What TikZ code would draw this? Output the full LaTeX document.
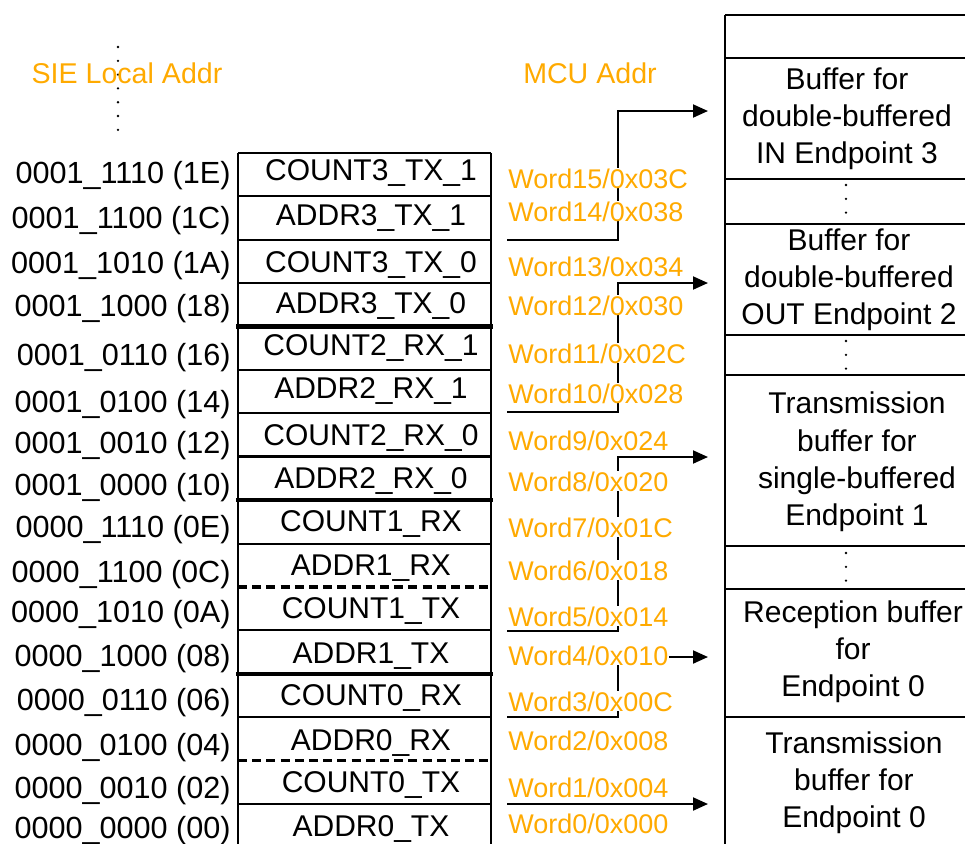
\documentclass[tikz,border=0pt]{standalone}
\usepackage{fontspec}
\setmainfont{Liberation Sans}
\usetikzlibrary{arrows.meta}
\definecolor{addrorange}{RGB}{255,170,0}

\begin{document}
\begin{tikzpicture}[x=0.5pt, y=-0.5pt,
    cell/.style={font=\fontsize{15}{18}\selectfont, inner sep=0pt, anchor=base},
    sie/.style={font=\fontsize{15.3}{18}\selectfont, inner sep=0pt, anchor=base east},
    word/.style={font=\fontsize{13.5}{16}\selectfont, text=addrorange, fill=white,
        inner sep=0pt, anchor=base west},
    head/.style={font=\fontsize{14.3}{17}\selectfont, text=addrorange, inner sep=0pt, anchor=base},
    buf/.style={font=\fontsize{15}{18.6}\selectfont, align=center, inner sep=0pt},
    tbl/.style={line width=1pt},
    sep/.style={line width=2.2pt},
    half/.style={line width=1.4pt},
    split/.style={line width=1.6pt, dash pattern=on 4.5pt off 2.6pt},
    dots/.style={line width=1.3pt, line cap=round, dash pattern=on 0pt off 6.9pt},
    link/.style={line width=1pt, -{Triangle[length=7.5pt,width=6.5pt]}}]

    \useasboundingbox (0,0) rectangle (965,843);

    % headers
    \draw[dots] (118,47) -- (118,131);
    \node[head] (hsie) at (127,83) {SIE Local Addr};
    \node[head] (hmcu) at (590,83) {MCU Addr};

    % descriptor table
    \draw[tbl] (238,153) -- (238,850) (491,153) -- (491,850);
    \foreach \k in {0,1,2,3,5,6,9,11,13}
        \draw[tbl] (238,{153+43.4*\k}) -- (491,{153+43.4*\k});
    \foreach \k in {4,8,12}
        \draw[sep] (236,{153+43.4*\k}) -- (493,{153+43.4*\k});
    \foreach \k in {7,15}
        \draw[half] (238,{153+43.4*\k}) -- (491,{153+43.4*\k});
    \foreach \k in {10,14}
        \draw[split] (238,{153+43.4*\k}) -- (491,{153+43.4*\k});

    \foreach \y/\t [count=\i] in {180/COUNT3\_TX\_1, 225/ADDR3\_TX\_1,
            272/COUNT3\_TX\_0, 313/ADDR3\_TX\_0, 355/COUNT2\_RX\_1,
            398/ADDR2\_RX\_1, 445/COUNT2\_RX\_0, 488/ADDR2\_RX\_0,
            531/COUNT1\_RX, 575/ADDR1\_RX, 618/COUNT1\_TX, 663/ADDR1\_TX,
            705/COUNT0\_RX, 750/ADDR0\_RX, 792/COUNT0\_TX, 836/ADDR0\_TX}
        \node[cell] (c\i) at (371,\y) {\t};

    % SIE local addresses
    \foreach \y/\t [count=\i] in {183/0001\_1110 (1E), 228/0001\_1100 (1C),
            273/0001\_1010 (1A), 316/0001\_1000 (18), 365/0001\_0110 (16),
            412/0001\_0100 (14), 453/0001\_0010 (12), 495/0001\_0000 (10),
            537/0000\_1110 (0E), 582/0000\_1100 (0C), 622/0000\_1010 (0A),
            666/0000\_1000 (08), 710/0000\_0110 (06), 755/0000\_0100 (04),
            798/0000\_0010 (02), 838/0000\_0000 (00)}
        \node[sie] (s\i) at (231,\y) {\t};

    % buffer area
    \draw[tbl] (725,15) -- (725,850);
    \foreach \y in {15,58,179,224,335,375,546,589,717}
        \draw[tbl] (725,\y) -- (975,\y);
    \draw[dots] (846,185) -- (846,213);
    \draw[dots] (846,341) -- (846,369);
    \draw[dots] (846,553) -- (846,581);

    \node[buf] (b1) at (847,119) {Buffer for\\double-buffered\\IN Endpoint 3};
    \node[buf] (b2) at (849,280) {Buffer for\\double-buffered\\OUT Endpoint 2};
    \node[buf] (b3) at (857,462) {Transmission\\buffer for\\single-buffered\\Endpoint 1};
    \node[buf] (b4) at (853,652) {Reception buffer\\for\\Endpoint 0};
    \node[buf] (b5) at (854,783) {Transmission\\buffer for\\Endpoint 0};

    % pointers into the buffer area
    \coordinate (p1) at (507,240);  \coordinate (q1) at (708,111);
    \coordinate (p2) at (507,412);  \coordinate (q2) at (708,283);
    \coordinate (p3) at (507,631);  \coordinate (q3) at (708,457);
    \coordinate (p4) at (507,717);  \coordinate (q4) at (708,657);
    \coordinate (p5) at (507,804);  \coordinate (q5) at (708,804);
    \foreach \i in {1,2,3,4}
        \draw[link] (p\i) -- ++(111,0) |- (q\i);
    \draw[link] (p5) -- (q5);

    % MCU word addresses
    \foreach \y/\n/\a [count=\i] in {188/15/03C, 221/14/038, 276/13/034,
            315/12/030, 363/11/02C, 403/10/028, 450/9/024, 491/8/020,
            537/7/01C, 580/6/018, 626/5/014, 665/4/010, 711/3/00C,
            750/2/008, 797/1/004, 833/0/000}
        \node[word] (w\i) at (508,\y) {Word\n/0x\a};

\end{tikzpicture}
\end{document}
